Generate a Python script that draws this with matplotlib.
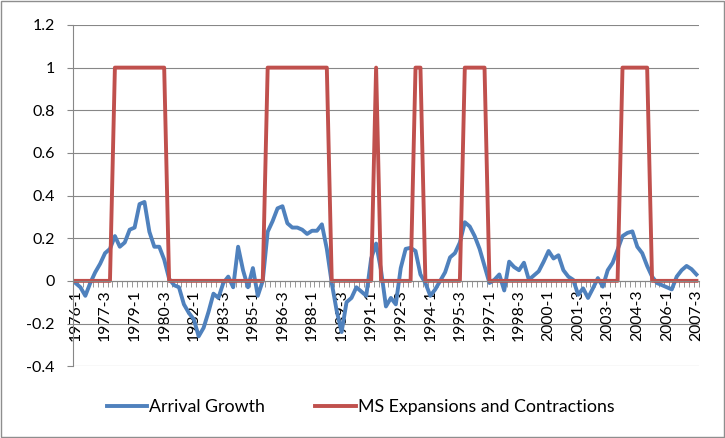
import matplotlib.pyplot as plt
import matplotlib.patches as patches
import numpy as np

# quarterly categories 1976-1 .. 2007-3
quarters = [f'{y}-{q}' for y in range(1976, 2008) for q in range(1, 5)][:127]

arrival_growth = [
    -0.01, -0.03, -0.07, -0.01, 0.04, 0.08, 0.13, 0.15, 0.21, 0.16,
    0.18, 0.24, 0.25, 0.36, 0.37, 0.23, 0.16, 0.16, 0.10, 0.01,
    -0.02, -0.03, -0.11, -0.15, -0.18, -0.26, -0.22, -0.145, -0.06, -0.08,
    -0.01, 0.02, -0.03, 0.16, 0.05, -0.03, 0.06, -0.07, 0.00, 0.23,
    0.28, 0.34, 0.35, 0.27, 0.25, 0.25, 0.24, 0.22, 0.235, 0.235,
    0.265, 0.15, -0.01, -0.14, -0.24, -0.10, -0.08, -0.03, -0.05, -0.07,
    0.105, 0.175, 0.05, -0.12, -0.08, -0.11, 0.06, 0.15, 0.155, 0.14,
    0.03, -0.01, -0.07, -0.04, 0.00, 0.04, 0.11, 0.13, 0.18, 0.275,
    0.255, 0.21, 0.15, 0.07, -0.01, 0.005, 0.03, -0.045, 0.09, 0.065,
    0.05, 0.085, 0.005, 0.025, 0.045, 0.09, 0.14, 0.105, 0.12, 0.05,
    0.02, 0.005, -0.065, -0.035, -0.08, -0.035, 0.013, -0.027, 0.05, 0.085,
    0.146, 0.21, 0.225, 0.232, 0.16, 0.13, 0.07, 0.02, -0.01, -0.02,
    -0.03, -0.04, 0.02, 0.05, 0.07, 0.055, 0.03,
]

ms_regime = [
    0, 0, 0, 0, 0, 0, 0, 0, 1, 1,
    1, 1, 1, 1, 1, 1, 1, 1, 1, 0,
    0, 0, 0, 0, 0, 0, 0, 0, 0, 0,
    0, 0, 0, 0, 0, 0, 0, 0, 0, 1,
    1, 1, 1, 1, 1, 1, 1, 1, 1, 1,
    1, 1, 0, 0, 0, 0, 0, 0, 0, 0,
    0, 1, 0, 0, 0, 0, 0, 0, 0, 1,
    1, 0, 0, 0, 0, 0, 0, 0, 0, 1,
    1, 1, 1, 1, 0, 0, 0, 0, 0, 0,
    0, 0, 0, 0, 0, 0, 0, 0, 0, 0,
    0, 0, 0, 0, 0, 0, 0, 0, 0, 0,
    0, 1, 1, 1, 1, 1, 1, 0, 0, 0,
    0, 0, 0, 0, 0, 0, 0,
]

y_ticks = [-0.4, -0.2, 0, 0.2, 0.4, 0.6, 0.8, 1, 1.2]
y_labels = ['-0.4', '-0.2', '0', '0.2', '0.4', '0.6', '0.8', '1', '1.2']

plt.rcParams['font.family'] = ['Lato', 'DejaVu Sans']

fig, ax = plt.subplots(figsize=(7.25, 4.38), dpi=100)
fig.subplots_adjust(left=0.1007, right=0.964, top=0.943, bottom=0.164)

x = np.arange(len(quarters))
ax.plot(x, arrival_growth, color='#4F81BD', lw=2.8, label='Arrival Growth',
        solid_joinstyle='round')
ax.plot(x, ms_regime, color='#C0504D', lw=2.8, label='MS Expansions and Contractions',
        solid_joinstyle='round')

ax.set_xlim(-0.5, len(quarters) - 0.5)
ax.set_ylim(-0.4, 1.2)

ax.set_yticks(y_ticks)
ax.set_yticklabels(y_labels)
ax.grid(axis='y', color='#878787', lw=0.8)
ax.tick_params(axis='y', length=4, color='#878787', pad=9, labelsize=11.5)

ax.set_xticks(x[::6])
ax.set_xticklabels(quarters[::6])
ax.set_xticks(np.arange(-0.5, len(quarters), 1), minor=True)
ax.tick_params(axis='x', which='major', length=0, pad=6, labelsize=11.3,
               labelrotation=90)
ax.tick_params(axis='x', which='minor', length=4, color='#878787')

ax.spines['top'].set_visible(False)
ax.spines['right'].set_visible(False)
ax.spines['bottom'].set_position(('data', 0))
ax.spines['bottom'].set_color('#878787')
ax.spines['left'].set_color('#878787')

fig.legend(loc='center', bbox_to_anchor=(0.497, 0.071), ncol=2, frameon=False,
           fontsize=12.8, handlelength=2.3, handletextpad=0.1, columnspacing=2.8)

fig.add_artist(patches.Rectangle((0.001, 0.002), 0.997, 0.995, transform=fig.transFigure,
                                 fill=False, edgecolor='#8e8e8e', lw=1))

fig.savefig('out.png', dpi=100)
